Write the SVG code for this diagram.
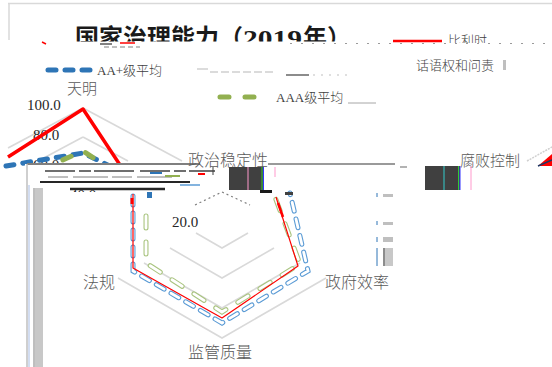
<svg xmlns="http://www.w3.org/2000/svg" width="552" height="367" viewBox="0 0 552 367">
<style>
.cjk{font-family:"Liberation Serif","Noto Sans CJK SC",serif;fill:#595959;font-weight:300}
.num{font-family:"Liberation Serif","Noto Sans CJK SC",serif;fill:#262626}
.lg{font-family:"Liberation Serif","Noto Sans CJK SC",serif;fill:#404040;font-size:13px;font-weight:300}
.grid{fill:none;stroke:#d9d9d9;stroke-width:1.6}
.frame{fill:none;stroke:#d9d9d9;stroke-width:1.5}
.red{fill:none;stroke:#ff0000;stroke-linejoin:round}
.blueT{fill:none;stroke:#2e75b6;stroke-width:5;stroke-linecap:round;stroke-dasharray:8 9}
.greenT{fill:none;stroke:#92b050;stroke-width:5;stroke-linecap:round;stroke-dasharray:9 16}
.blueO{fill:none;stroke:#5b9bd5;stroke-width:5;stroke-linecap:round;stroke-dasharray:9 8}
.greenO{fill:none;stroke:#a9c47f;stroke-width:5;stroke-linecap:round;stroke-dasharray:12 14}
.hollowB{fill:none;stroke:#fff;stroke-width:2.8;stroke-linecap:round;stroke-dasharray:9 8}
.hollowG{fill:none;stroke:#fff;stroke-width:2.8;stroke-linecap:round;stroke-dasharray:12 14}
.dark{fill:#404040}
</style>
<defs>
<clipPath id="clipTitle"><rect x="0" y="0" width="552" height="41.5"/></clipPath>
<clipPath id="clipRow1"><rect x="0" y="30" width="552" height="13"/></clipPath>
<clipPath id="clip40"><rect x="60" y="185" width="60" height="7"/></clipPath>
</defs>
<rect width="552" height="367" fill="#ffffff"/>

<!-- chart frame fragments -->
<g id="frame">
<line class="frame" x1="8" y1="3.5" x2="552" y2="3.5"/>
<line class="frame" x1="9" y1="3" x2="9" y2="40"/>
</g>

<!-- title -->
<g id="title" clip-path="url(#clipTitle)">
<text x="75" y="46" font-family="'Liberation Serif','Noto Sans CJK SC',serif" font-size="24" font-weight="bold" fill="#1a1a1a">国家治理能力<tspan x="219">（</tspan><tspan x="243" textLength="59" lengthAdjust="spacingAndGlyphs">2019</tspan><tspan x="303">年）</tspan></text>
</g>

<!-- legend -->
<g id="legend">
<line x1="42" y1="42" x2="46" y2="44" stroke="#ff0000" stroke-width="1.5"/>
<line x1="100" y1="44" x2="112" y2="44" stroke="#595959" stroke-width="1.5"/>
<line x1="104" y1="47" x2="140" y2="47" stroke="#7f7f7f" stroke-width="1" stroke-dasharray="5 3"/>
<line x1="120" y1="43" x2="135" y2="43" stroke="#ff0000" stroke-width="1.5"/>
<g clip-path="url(#clipRow1)">
<text class="lg" x="448" y="45" font-size="14">比利时</text>
</g>
<line x1="393" y1="41" x2="442" y2="41" stroke="#ff0000" stroke-width="2.5"/>
<line x1="290" y1="43.5" x2="552" y2="43.5" stroke="#9a9a9a" stroke-width="1.2" stroke-dasharray="2 9"/>

<line class="blueT" x1="48" y1="70" x2="90" y2="70"/>
<text class="lg" x="97" y="75">AA+级平均</text>
<line x1="197" y1="69" x2="208" y2="69" stroke="#d0d0d0" stroke-width="1.5"/>
<line x1="210" y1="72" x2="276" y2="72" stroke="#d0d0d0" stroke-width="1.5" stroke-dasharray="8 3"/>
<line x1="286" y1="75" x2="309" y2="75" stroke="#7f7f7f" stroke-width="1.8"/>
<line x1="313" y1="75" x2="353" y2="75" stroke="#bfbfbf" stroke-width="1" stroke-dasharray="2 6"/>
<text class="lg" x="416" y="70" font-size="14">话语权和问责</text>
<rect x="503" y="60" width="3" height="10" fill="#bfbfbf"/>

<line class="greenT" x1="220" y1="97" x2="265" y2="97"/>
<text class="lg" x="276" y="102">AAA级平均</text>
<line x1="348" y1="103" x2="376" y2="103" stroke="#a6a6a6" stroke-width="1"/>
</g>

<!-- small radar (upper-left copy) -->
<g id="small-radar">
<line class="grid" x1="83" y1="108" x2="182" y2="161"/>
<line class="grid" x1="83" y1="108" x2="8" y2="148"/>
<line class="grid" x1="40" y1="160" x2="83" y2="137"/>
<line class="grid" x1="83" y1="137" x2="128" y2="161"/>
<text class="cjk" x="67" y="94" font-size="15">天明</text>
<text class="num" x="27" y="110" font-size="15">100.0</text>
<text class="num" x="33" y="140" font-size="15">80.0</text>
<text class="num" x="33" y="170" font-size="15">60.0</text>
<polyline class="red" stroke-width="3.5" points="8,157 83,109 122,168"/>
<polyline class="blueT" points="6,166 83,153 118,170"/>
<polyline class="greenT" points="40,170 83,151 112,170"/>
</g>

<!-- glitch band -->
<g id="band">
<rect x="25" y="164" width="320" height="32" fill="#ffffff"/>
<line x1="27" y1="164" x2="200" y2="164" stroke="#7f7f7f" stroke-width="2"/>
<line x1="268" y1="164" x2="395" y2="164" stroke="#9a9a9a" stroke-width="2"/>
<line x1="27" y1="164" x2="27" y2="367" stroke="#bfbfbf" stroke-width="1.5"/>
<line x1="29" y1="185" x2="29" y2="367" stroke="#8faadc" stroke-width="0.8"/>
<line x1="34" y1="188" x2="34" y2="367" stroke="#7f7f7f" stroke-width="1"/>
<rect x="35" y="188" width="8" height="179" fill="#c8c8c8"/>
<line x1="45" y1="171" x2="215" y2="171" stroke="#404040" stroke-width="1.5" stroke-dasharray="30 4 12 3 40 6"/>
<line x1="48" y1="177" x2="175" y2="177" stroke="#7f7f7f" stroke-width="1" stroke-dasharray="20 5 35 4"/>
<line x1="40" y1="182" x2="190" y2="182" stroke="#262626" stroke-width="2"/>
<line x1="70" y1="189" x2="165" y2="189" stroke="#262626" stroke-width="2.5"/>
<line x1="150" y1="173" x2="162" y2="173" stroke="#2e75b6" stroke-width="2"/>
<line x1="165" y1="176" x2="180" y2="176" stroke="#92b050" stroke-width="2"/>
<line x1="198" y1="174" x2="205" y2="174" stroke="#ff0000" stroke-width="2"/>
<line x1="213" y1="167" x2="213" y2="175" stroke="#404040" stroke-width="1"/>
<line x1="180" y1="185" x2="200" y2="185" stroke="#5b9bd5" stroke-width="1.5"/>
<g clip-path="url(#clip40)"><text class="num" x="70" y="200" font-size="15">40.0</text></g>
</g>

<!-- big radar grid -->
<g id="grid">
<polyline class="grid" points="118,278 222,338 326,278"/>
<polyline class="grid" points="144,263 222,308 300,263"/>
<polyline class="grid" points="170,248 222,278 274,248"/>
<polyline class="grid" points="196,233 222,248 248,233"/>
<polyline fill="none" stroke="#7f7f7f" stroke-width="1.2" stroke-dasharray="2 3" points="195,205 222,192 250,205"/>
</g>

<!-- series (connectors) -->
<g id="connectors">
<polyline class="blueO" points="133,196 133,271 222,323 308,271 290,193"/>
<polyline class="hollowB" points="133,196 133,271 222,323 308,271 290,193"/>
<polyline class="greenO" points="146,216 146,263 222,312 300,264 275,197"/>
<polyline class="hollowG" points="146,216 146,263 222,312 300,264 275,197"/>
<polyline class="red" stroke-width="1.2" points="133,194 133,268 222,318 298,266 276,197"/>
<line x1="278" y1="203" x2="283" y2="217" stroke="#ff0000" stroke-width="2.5"/>
<line x1="132" y1="198" x2="132" y2="204" stroke="#ff0000" stroke-width="3"/>
<rect x="147" y="192" width="5" height="6" fill="#2e75b6"/>
</g>

<!-- axis labels -->
<g id="label-stability"><text class="cjk" x="188" y="166" font-size="16">政治稳定性</text></g>
<g id="label-corruption"><text class="cjk" x="460" y="166" font-size="15">腐败控制</text></g>
<g id="label-law"><text class="cjk" x="83" y="288" font-size="16">法规</text></g>
<g id="label-efficiency"><text class="cjk" x="325" y="288" font-size="16">政府效率</text></g>
<g id="label-regulatory"><text class="cjk" x="188" y="358" font-size="16">监管质量</text></g>
<g id="label-20"><text class="num" x="172" y="227" font-size="15">20.0</text></g>

<!-- dark blocks and markers -->
<g id="blocks">
<rect class="dark" x="229" y="167" width="35" height="23"/>
<line x1="248" y1="167" x2="248" y2="190" stroke="#ff99cc" stroke-width="1"/>
<line x1="262" y1="167" x2="262" y2="190" stroke="#33cc33" stroke-width="1"/>
<line x1="263.5" y1="167" x2="263.5" y2="190" stroke="#3333ff" stroke-width="1"/>
<line x1="275" y1="167" x2="275" y2="177" stroke="#ff99cc" stroke-width="1"/>
<rect x="260" y="190" width="12" height="3" fill="#1a1a1a"/>
<rect x="285" y="192" width="8" height="3" fill="#404040"/>
<rect class="dark" x="425" y="166" width="35" height="24"/>
<line x1="444" y1="166" x2="444" y2="190" stroke="#33cccc" stroke-width="1"/>
<line x1="458.5" y1="166" x2="458.5" y2="190" stroke="#33cc33" stroke-width="1"/>
<line x1="460" y1="166" x2="460" y2="190" stroke="#3333ff" stroke-width="1"/>
<line x1="471" y1="166" x2="471" y2="190" stroke="#ff99cc" stroke-width="1"/>
<line x1="400" y1="167" x2="407" y2="167" stroke="#9a9a9a" stroke-width="1.5"/>
</g>
<g id="markers">
<line x1="377" y1="193" x2="377" y2="197" stroke="#2e75b6" stroke-width="1"/>
<rect x="383" y="194" width="10" height="3" fill="#bfbfbf"/>
<line x1="377" y1="221" x2="377" y2="225" stroke="#2e75b6" stroke-width="1"/>
<rect x="383" y="222" width="10" height="3" fill="#bfbfbf"/>
<line x1="377" y1="237" x2="377" y2="242" stroke="#2e75b6" stroke-width="1"/>
<rect x="383" y="237" width="10" height="5" fill="#bfbfbf"/>
<line x1="377" y1="248" x2="377" y2="266" stroke="#2e75b6" stroke-width="1"/>
<line x1="384" y1="248" x2="384" y2="266" stroke="#1a1a1a" stroke-width="1"/>
<rect x="385" y="248" width="8" height="18" fill="#c8c8c8"/>
</g>
<g id="corner">
<line x1="527" y1="161" x2="552" y2="147" stroke="#d0d0d0" stroke-width="1.5" stroke-dasharray="2 1"/>
<polygon points="538,166 552,166 552,154" fill="#ff0000"/>
<line x1="538" y1="166" x2="552" y2="160" stroke="#1f3864" stroke-width="1.5"/>
</g>
</svg>
